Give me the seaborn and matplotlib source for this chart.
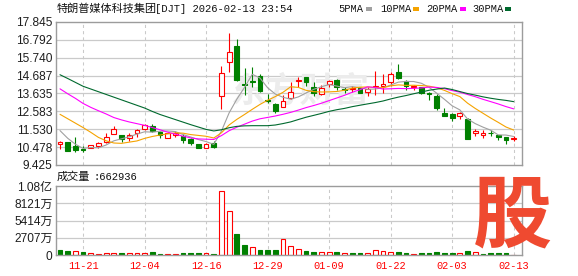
import numpy as np
import pandas as pd
import matplotlib
matplotlib.use('Agg')
import matplotlib.pyplot as plt
import seaborn as sns
from matplotlib.patches import Rectangle

# ---------------- data ----------------
dates = ['11-21', '12-04', '12-16', '12-29', '01-09', '01-22', '02-03', '02-13']
date_pos = [3, 11, 19, 27, 35, 43, 51, 59]

open_ = [10.65, 10.77, 10.53, 10.38, 10.43, 10.52, 10.79, 11.24, 11.22, 11.04,
         11.28, 11.53, 11.70, 11.37, 11.04, 11.20, 11.14, 10.95, 10.65, 10.40,
         10.74, 13.48, 15.47, 16.44, 14.22, 14.36, 14.69, 13.28, 12.99, 12.86,
         13.36, 14.35, 14.59, 14.04, 13.60, 14.22, 14.45, 13.90, 13.92, 13.97,
         13.71, 13.99, 14.06, 14.32, 14.88, 14.39, 14.04, 14.00, 13.65, 13.46,
         12.51, 12.40, 12.31, 12.12, 11.28, 11.22, 11.32, 11.22, 11.08, 10.95]
high_ = [10.85, 10.78, 11.05, 10.53, 10.62, 10.77, 11.28, 11.72, 11.22, 11.28,
         11.57, 11.86, 11.82, 11.43, 11.37, 11.43, 11.24, 11.00, 10.69, 10.74,
         10.83, 15.23, 17.18, 16.83, 15.12, 15.17, 14.79, 13.62, 13.09, 13.56,
         14.34, 14.59, 14.63, 14.34, 14.14, 14.45, 14.50, 14.04, 14.10, 14.00,
         14.00, 14.98, 14.79, 14.90, 15.40, 14.44, 14.16, 14.04, 13.71, 13.58,
         12.80, 12.48, 12.54, 12.19, 11.53, 11.47, 11.47, 11.22, 11.08, 11.14]
low_ = [10.34, 10.25, 10.20, 10.20, 10.41, 10.44, 10.73, 11.24, 10.79, 10.85,
        11.08, 11.47, 11.37, 11.04, 10.99, 11.08, 10.73, 10.63, 10.40, 10.40,
        10.44, 12.74, 14.88, 14.40, 13.52, 14.00, 13.71, 13.09, 12.51, 12.83,
        13.32, 14.00, 14.10, 13.48, 13.52, 14.04, 13.85, 13.65, 13.75, 13.65,
        13.48, 13.52, 13.65, 14.05, 14.49, 13.85, 13.85, 13.62, 13.27, 12.64,
        12.31, 12.02, 12.16, 10.93, 11.14, 11.02, 11.14, 10.89, 10.65, 10.85]
close_ = [10.79, 10.26, 10.30, 10.33, 10.59, 10.71, 11.08, 11.53, 10.93, 11.19,
          11.49, 11.76, 11.43, 11.18, 11.28, 11.31, 10.89, 10.70, 10.43, 10.69,
          10.48, 14.85, 16.05, 14.45, 14.16, 14.32, 13.77, 13.17, 12.60, 13.21,
          13.75, 14.45, 14.33, 13.67, 13.97, 14.39, 14.00, 13.85, 13.97, 13.68,
          13.90, 14.10, 14.20, 14.79, 14.53, 14.10, 14.08, 13.68, 13.60, 12.78,
          12.31, 12.18, 12.48, 10.93, 11.41, 11.28, 11.28, 11.08, 10.89, 10.99]

ma5 = [11.45, 11.00, 10.65, 10.40, 10.454, 10.438, 10.602, 10.848, 10.968, 11.088,
       11.244, 11.38, 11.36, 11.41, 11.428, 11.392, 11.218, 11.072, 10.922, 10.804,
       10.638, 11.43, 12.50, 13.304, 13.998, 14.766, 14.55, 13.974, 13.604, 13.414,
       13.30, 13.436, 13.668, 13.882, 14.034, 14.162, 14.072, 13.976, 14.036, 13.978,
       13.88, 13.90, 13.97, 14.134, 14.304, 14.344, 14.34, 14.236, 13.998, 13.648,
       13.29, 12.91, 12.67, 12.136, 11.862, 11.656, 11.476, 11.196, 11.188, 11.104]
ma10 = [12.41, 12.15, 11.89, 11.63, 11.35, 11.05, 10.85, 10.72, 10.70, 10.771,
        10.841, 10.991, 11.104, 11.189, 11.258, 11.318, 11.299, 11.216, 11.166, 11.116,
        11.015, 11.324, 11.786, 12.113, 12.401, 12.702, 12.99, 13.237, 13.454, 13.706,
        14.033, 13.993, 13.821, 13.743, 13.724, 13.731, 13.754, 13.822, 13.959, 14.006,
        14.021, 13.986, 13.973, 14.085, 14.141, 14.112, 14.12, 14.103, 14.066, 13.976,
        13.817, 13.625, 13.453, 13.067, 12.755, 12.473, 12.193, 11.933, 11.662, 11.483]
ma20 = [13.91, 13.62, 13.35, 13.05, 12.82, 12.62, 12.43, 12.22, 12.08, 11.96,
        11.86, 11.76, 11.63, 11.50, 11.36, 11.24, 11.12, 11.02, 10.96, 10.944,
        10.928, 11.158, 11.445, 11.651, 11.83, 12.01, 12.145, 12.227, 12.31, 12.411,
        12.524, 12.659, 12.804, 12.928, 13.063, 13.217, 13.372, 13.53, 13.707, 13.856,
        14.027, 13.99, 13.897, 13.914, 13.933, 13.922, 13.937, 13.963, 14.013, 13.991,
        13.919, 13.806, 13.713, 13.576, 13.448, 13.293, 13.157, 13.018, 12.864, 12.73]
ma30 = [14.74, 14.52, 14.29, 14.06, 13.90, 13.74, 13.58, 13.42, 13.26, 13.10,
        12.94, 12.78, 12.58, 12.40, 12.25, 12.10, 11.95, 11.80, 11.66, 11.52,
        11.43, 11.50, 11.62, 11.70, 11.73, 11.74, 11.74, 11.74, 11.78, 11.864,
        11.963, 12.103, 12.237, 12.348, 12.461, 12.584, 12.681, 12.758, 12.86, 12.943,
        13.023, 13.101, 13.193, 13.314, 13.422, 13.515, 13.621, 13.721, 13.826, 13.896,
        13.957, 13.868, 13.749, 13.632, 13.54, 13.439, 13.356, 13.286, 13.229, 13.155]

# volume in 万 (10^4 shares); 1 = up day (red hollow), 0 = down day (green)
volume = [790, 630, 630, 470, 320, 160, 320, 320, 320, 320,
          320, 320, 470, 160, 160, 160, 320, 320, 320, 320,
          160, 10100, 6950, 3310, 1580, 1260, 790, 790, 790, 2520,
          1420, 950, 630, 470, 470, 470, 470, 320, 320, 320,
          320, 790, 630, 470, 470, 320, 160, 320, 320, 470,
          320, 320, 320, 700, 400, 160, 300, 300, 320, 66]
vol_up = [0, 0, 1, 0, 1, 1, 1, 1, 0, 1,
          1, 1, 0, 0, 1, 1, 0, 0, 0, 1,
          0, 1, 1, 0, 0, 1, 0, 0, 0, 1,
          1, 1, 0, 0, 1, 1, 0, 1, 0, 0,
          1, 1, 1, 1, 0, 0, 1, 0, 0, 0,
          0, 0, 1, 0, 1, 0, 0, 0, 0, 1]

price_ticks = [9.425, 10.478, 11.530, 12.583, 13.635, 14.687, 15.740, 16.792, 17.845]
vol_ticks = [0, 2707, 5414, 8121, 10828]
vol_labels = ['0', '2707万', '5414万', '8121万', '1.08亿']

ma_names = ['5PMA', '10PMA', '20PMA', '30PMA']
ma_colors = ['#a0a0a0', '#f5a300', '#ff00ff', '#00692e']

# ---------------- style ----------------
sns.set_style('white')
plt.rcParams['font.family'] = ['Liberation Sans', 'Noto Sans CJK SC', 'DejaVu Sans']

W, H = 578, 276
fig = plt.figure(figsize=(W / 100, H / 100), dpi=100)
L, R = 56, 522


def rect(top, bottom):
    return [L / W, (H - bottom) / H, (R - L) / W, (bottom - top) / H]


ax = fig.add_axes(rect(22, 165))
axv = fig.add_axes(rect(186, 255))

O = np.array(open_); Hh = np.array(high_); Lo = np.array(low_); C = np.array(close_)
n = len(C)
idx = np.arange(n)
RED, GREEN = '#ff0000', '#008000'
GRID = '#cacaca'
XL = (-0.52, 60.08)

for a in (ax, axv):
    a.set_xlim(*XL)
    for s in a.spines.values():
        s.set_color('#9c9c9c')
        s.set_linewidth(1.0)
    for d in date_pos:
        a.axvline(d, color=GRID, lw=0.75, ls=(0, (3, 3)), zorder=0)

# price grid
ax.set_ylim(price_ticks[0], price_ticks[-1])
for t in price_ticks[1:-1]:
    ax.axhline(t, color=GRID, lw=0.9, zorder=0)

# watermark
ax.text(0.525, 0.52, '东方财富', transform=ax.transAxes, ha='center', va='center',
        fontsize=25, color='#ececec', family=['Noto Sans CJK SC'], fontweight='bold', zorder=0.5)

# candles
up = C >= O
col = np.where(up, RED, GREEN)
ax.vlines(idx, Lo, Hh, colors=col, lw=0.8, zorder=2)
body_bottom = np.minimum(O, C)
body_h = np.maximum(np.abs(C - O), 0.03)
face = np.where(up, 'white', GREEN)
ax.bar(idx, body_h, bottom=body_bottom, width=0.62, color=list(face),
       edgecolor=list(col), linewidth=0.8, zorder=3)

# moving averages via seaborn
df = pd.DataFrame({
    'i': np.tile(idx, 4),
    'v': np.concatenate([ma5, ma10, ma20, ma30]),
    'ma': np.repeat(ma_names, n),
})
sns.lineplot(data=df, x='i', y='v', hue='ma', palette=dict(zip(ma_names, ma_colors)),
             estimator=None, linewidth=0.8, legend=False, ax=ax, zorder=4)
ax.set_xlim(*XL)
ax.set_ylim(price_ticks[0], price_ticks[-1])
ax.set_xlabel(''); ax.set_ylabel('')
ax.set_xticks([])
ax.set_yticks(price_ticks)
ax.set_yticklabels([f'{t:.3f}' for t in price_ticks])
ax.tick_params(axis='y', length=0, pad=2.5, labelsize=8.6, labelcolor='#1e1e1e')

# volume
axv.set_ylim(0, vol_ticks[-1])
for t in vol_ticks[1:-1]:
    axv.axhline(t, color=GRID, lw=0.9, zorder=0)
vu = np.array(vol_up) == 1
axv.bar(idx, volume, width=0.62, color=list(np.where(vu, 'white', GREEN)),
        edgecolor=list(np.where(vu, RED, GREEN)), linewidth=0.8, zorder=2)
axv.set_yticks(vol_ticks)
axv.set_yticklabels(vol_labels)
axv.tick_params(axis='y', length=0, pad=2.5, labelsize=8.6, labelcolor='#1e1e1e')
axv.set_xticks(date_pos)
axv.set_xticklabels(dates)
axv.tick_params(axis='x', length=0, pad=4.5, labelsize=7.4, labelcolor='#ff0000')
for lb in axv.get_xticklabels():
    lb.set_fontfamily('Liberation Mono')

# header texts
fig.text(57 / W, 1 - 9 / H, '特朗普媒体科技集团', family=['Noto Sans CJK SC'], fontsize=8,
         va='center', ha='left', color='#111111')
fig.text(155 / W, 1 - 9 / H, '[DJT] 2026-02-13 23:54', family=['Liberation Mono'], fontsize=7.6,
         va='center', ha='left', color='#111111')

legend_pos = [(338, 366), (380, 413), (426, 460), (472, 505)]
for name, c, (tx, rx) in zip(ma_names, ma_colors, legend_pos):
    fig.text(tx / W, 1 - 8.5 / H, name, family=['Liberation Mono'], fontsize=7.5,
             va='center', ha='left', color='#111111')
    fig.add_artist(Rectangle((rx / W, 1 - 10.5 / H), 5.5 / W, 3.5 / H,
                             transform=fig.transFigure, color=c, lw=0))

fig.text(57 / W, 1 - 177 / H, '成交量', family=['Noto Sans CJK SC'], fontsize=8,
         va='center', ha='left', color='#111111')
fig.text(94 / W, 1 - 177 / H, ':662936', family=['Liberation Mono'], fontsize=7.6,
         va='center', ha='left', color='#111111')

# corner logo
fig.text(512 / W, 1 - 217 / H, '股', family=['Noto Sans CJK SC'], fontweight='bold',
         fontsize=57, color='#ef4a30', ha='center', va='center', zorder=10)

fig.savefig('out.png', dpi=100)
